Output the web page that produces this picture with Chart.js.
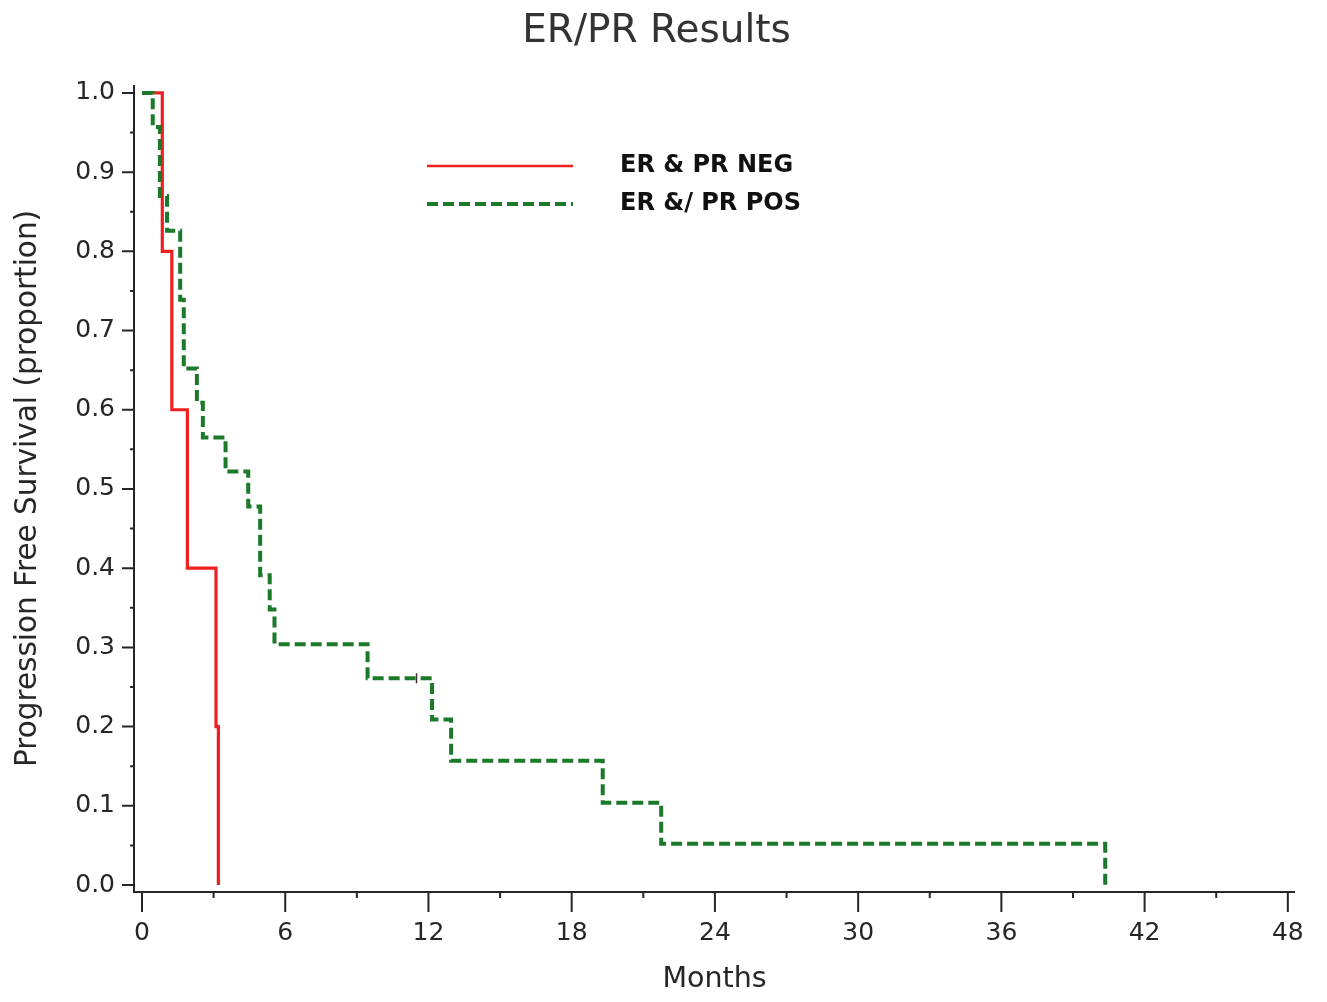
<!DOCTYPE html>
<html>
<head>
<meta charset="utf-8">
<script src="https://cdn.jsdelivr.net/npm/chart.js@4.4.0/dist/chart.umd.min.js"></script>
<style>
html,body{margin:0;padding:0;background:#fff;}
#wrap{width:1327px;height:1002px;position:relative;}
</style>
</head>
<body>
<div id="wrap"><canvas id="c"></canvas></div>
<script>
// ---- data ----
const seriesLabels = ['ER & PR NEG', 'ER &/ PR POS'];
const negMonths   = [0, 0.85, 1.25, 1.9, 3.1, 3.2];
const negSurvival = [1.0, 0.8, 0.6, 0.4, 0.2, 0.0];
const posMonths   = [0, 0.45, 0.75, 1.05, 1.6, 1.75, 2.3, 2.55, 3.5, 4.45, 4.95, 5.35, 5.55, 9.45, 12.15, 12.95, 19.3, 21.75, 40.35];
const posSurvival = [1.0, 0.957, 0.870, 0.826, 0.739, 0.652, 0.609, 0.565, 0.522, 0.478, 0.391, 0.348, 0.304, 0.261, 0.209, 0.157, 0.104, 0.052, 0.0];
const censorMonths   = [11.5];
const censorSurvival = [0.261];
const xMajorTicks = [0, 6, 12, 18, 24, 30, 36, 42, 48];
const xMinorTicks = [3, 9, 15, 21, 27, 33, 39, 45];
const yMajorTicks = [0, 0.1, 0.2, 0.3, 0.4, 0.5, 0.6, 0.7, 0.8, 0.9, 1.0];
const yMinorTicks = [0.05, 0.15, 0.25, 0.35, 0.45, 0.55, 0.65, 0.75, 0.85, 0.95];
const chartTitle = 'ER/PR Results';
const xTitle = 'Months';
const yTitle = 'Progression Free Survival (proportion)';

const toPts = (xs, ys) => xs.map((v, i) => ({x: v, y: ys[i]}));

const FONT = '"DejaVu Sans", Verdana, sans-serif';
const INK = '#262626';

const axesPlugin = {
  id: 'axesPlugin',
  beforeDatasetsDraw(chart) {
    const {ctx, chartArea: a, scales: {x, y}} = chart;
    ctx.save();
    ctx.strokeStyle = INK;
    ctx.lineWidth = 2;
    ctx.beginPath();
    ctx.moveTo(a.left, a.top);
    ctx.lineTo(a.left, a.bottom);
    ctx.lineTo(a.right, a.bottom);
    xMajorTicks.forEach(v => { const p = x.getPixelForValue(v); ctx.moveTo(p, a.bottom); ctx.lineTo(p, a.bottom + 20); });
    xMinorTicks.forEach(v => { const p = x.getPixelForValue(v); ctx.moveTo(p, a.bottom); ctx.lineTo(p, a.bottom + 6); });
    yMajorTicks.forEach(v => { const p = y.getPixelForValue(v); ctx.moveTo(a.left, p); ctx.lineTo(a.left - 12, p); });
    yMinorTicks.forEach(v => { const p = y.getPixelForValue(v); ctx.moveTo(a.left, p); ctx.lineTo(a.left - 4, p); });
    ctx.stroke();
    ctx.restore();
  }
};

const legendPlugin = {
  id: 'insideLegend',
  afterDraw(chart) {
    const ctx = chart.ctx;
    const items = chart.data.datasets.filter(d => d.inLegend);
    items.forEach((ds, i) => {
      const yy = 166 + i * 38;
      ctx.save();
      ctx.strokeStyle = ds.borderColor;
      ctx.lineWidth = ds.legendWidth;
      ctx.setLineDash(ds.borderDash || []);
      ctx.beginPath();
      ctx.moveTo(427, yy);
      ctx.lineTo(573, yy);
      ctx.stroke();
      ctx.setLineDash([]);
      ctx.fillStyle = '#111';
      ctx.font = 'bold 24px ' + FONT;
      ctx.textBaseline = 'middle';
      ctx.textAlign = 'left';
      ctx.fillText(ds.label, 620, yy);
      ctx.restore();
    });
  }
};

new Chart(document.getElementById('c'), {
  type: 'line',
  data: {
    datasets: [
      {
        label: seriesLabels[0], inLegend: true, legendWidth: 2.5,
        data: toPts(negMonths, negSurvival),
        borderColor: '#ee1f1f', borderWidth: 3.2, stepped: 'before',
        pointRadius: 0, fill: false, order: 1
      },
      {
        label: seriesLabels[1], inLegend: true, legendWidth: 4,
        data: toPts(posMonths, posSurvival),
        borderColor: '#1b7a2a', borderWidth: 4, borderDash: [11, 5], stepped: 'before',
        pointRadius: 0, fill: false, order: 0
      },
      {
        label: 'censored', inLegend: false,
        data: toPts(censorMonths, censorSurvival),
        showLine: false, pointStyle: 'line', rotation: 90, pointRadius: 5,
        borderColor: '#333', borderWidth: 1.5, order: 0
      }
    ]
  },
  options: {
    responsive: true,
    maintainAspectRatio: false,
    animation: false,
    events: [],
    layout: {padding: {left: 18, right: 32, top: 0, bottom: 0}},
    plugins: {
      legend: {display: false},
      tooltip: {enabled: false},
      title: {
        display: true, text: chartTitle, color: '#333',
        font: {family: FONT, size: 39, weight: 'normal', lineHeight: 1.2},
        padding: {top: 8, bottom: 30.2}
      }
    },
    scales: {
      x: {
        type: 'linear', min: -0.335, max: 48.3,
        afterFit(s) { s.height = 110; s.paddingLeft = 0; s.paddingRight = 0; },
        afterBuildTicks(s) { s.ticks = xMajorTicks.map(v => ({value: v})); },
        grid: {display: false, drawTicks: false},
        border: {display: false},
        ticks: {
          autoSkip: false, maxRotation: 0, padding: 26, color: INK,
          font: {family: FONT, size: 25},
          callback: v => String(v)
        },
        title: {
          display: true, text: xTitle, color: INK,
          font: {family: FONT, size: 28.5, lineHeight: 1.2},
          padding: {top: 0, bottom: 5}
        }
      },
      y: {
        type: 'linear', min: -0.0088, max: 1.01,
        afterFit(s) { s.width = 116; s.paddingTop = 0; s.paddingBottom = 0; },
        afterBuildTicks(s) { s.ticks = yMajorTicks.map(v => ({value: v})); },
        grid: {display: false, drawTicks: false},
        border: {display: false},
        ticks: {
          autoSkip: false, padding: 19, color: INK,
          font: {family: FONT, size: 25},
          callback: v => Number(v).toFixed(1)
        },
        title: {
          display: true, text: yTitle, color: INK,
          font: {family: FONT, size: 29.5, lineHeight: 0.68},
          padding: {top: 0, bottom: 0}
        }
      }
    }
  },
  plugins: [axesPlugin, legendPlugin]
});
</script>
</body>
</html>
